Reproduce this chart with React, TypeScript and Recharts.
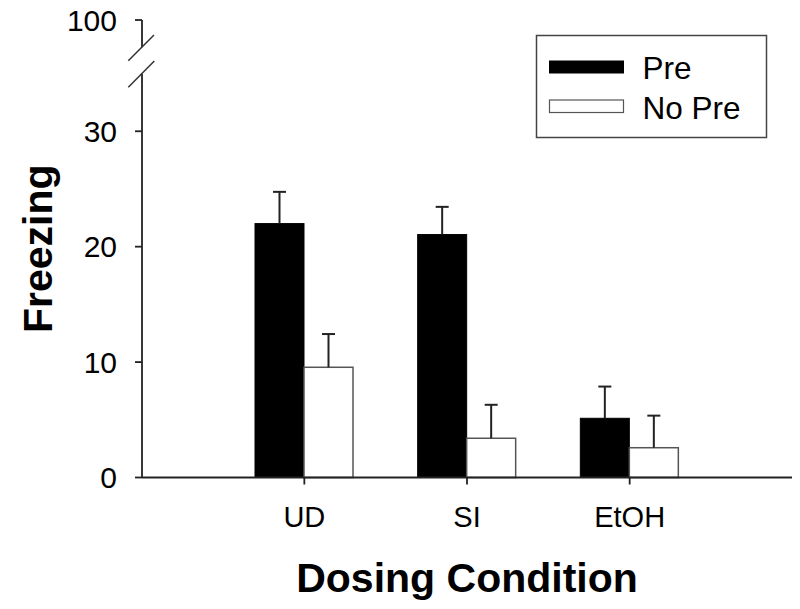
import React from 'react';
import { BarChart, Bar, XAxis, YAxis } from 'recharts';

const categories = ['UD', 'SI', 'EtOH'];
const preValues = [22.0, 21.05, 5.13];
const preErrors = [2.75, 2.4, 2.75];
const noPreValues = [9.55, 3.4, 2.58];
const noPreErrors = [2.88, 2.9, 2.78];
const yTicks = [0, 10, 20, 30];
const brokenTopLabel = '100';
const seriesNames = ['Pre', 'No Pre'];
const AXIS_TOP = 39.64; // position of the broken-axis "100" tick on the linear scale

const data = categories.map((c, i) => ({
  cat: c,
  pre: preValues[i],
  preErr: preErrors[i],
  noPre: noPreValues[i],
  noPreErr: noPreErrors[i],
}));

const FONT = '"Liberation Sans", Arial, sans-serif';
const AX = '#222';

const makeShape = (valueKey: string, errKey: string, fill: string, stroke: string, sw: number) => (props: any) => {
  const { x, y, width, height, payload } = props;
  const v = payload[valueKey];
  const e = payload[errKey];
  const pxPer = v ? height / v : 0;
  const top = y - e * pxPer;
  const cx = x + width / 2;
  return (
    <g>
      <rect x={x} y={y} width={width} height={height} fill={fill} stroke={stroke} strokeWidth={sw} />
      <line x1={cx} y1={y} x2={cx} y2={top} stroke={AX} strokeWidth={2} />
      <line x1={cx - 6.5} y1={top} x2={cx + 6.5} y2={top} stroke={AX} strokeWidth={2} />
    </g>
  );
};

const XTitle = (props: any) => {
  const vb = props.viewBox || { x: 134, y: 469.5, width: 650, height: 60 };
  return (
    <text x={vb.x + vb.width / 2} y={vb.y + 114.2} textAnchor="middle" fontFamily={FONT} fontWeight="bold" fontSize={41} fill="#000">
      Dosing Condition
    </text>
  );
};

const YTitle = (props: any) => {
  const vb = props.viewBox || { x: 0, y: 12, width: 134, height: 457.5 };
  const cx = 44;
  const cy = vb.y + vb.height / 2;
  return (
    <text x={cx} y={cy} transform={`rotate(-90, ${cx}, ${cy})`} textAnchor="middle" fontFamily={FONT} fontWeight="bold" fontSize={41} fill="#000">
      Freezing
    </text>
  );
};

export default function App() {
  return (
    <div style={{ position: 'relative', width: 784, height: 593 }}>
      <BarChart
        width={784}
        height={593}
        data={data}
        margin={{ top: 12, right: 0, bottom: 63.5, left: 0 }}
        barGap={0}
        barSize={49}
        style={{ overflow: 'visible' }}
      >
        <XAxis
          dataKey="cat"
          padding={{ left: 81, right: 81 }}
          height={60}
          tickSize={7}
          tickMargin={22}
          axisLine={{ stroke: AX, strokeWidth: 1.8 }}
          tickLine={{ stroke: AX, strokeWidth: 1.8 }}
          tick={{ fill: '#000', fontSize: 29, fontFamily: FONT }}
          label={{ content: XTitle } as any}
        />
        <YAxis
          type="number"
          domain={[0, AXIS_TOP]}
          ticks={[...yTicks, AXIS_TOP]}
          tickFormatter={(v: number) => (v === AXIS_TOP ? brokenTopLabel : String(v))}
          width={134}
          tickSize={7}
          tickMargin={18}
          interval={0}
          axisLine={{ stroke: AX, strokeWidth: 1.8 }}
          tickLine={{ stroke: AX, strokeWidth: 1.8 }}
          tick={{ fill: '#000', fontSize: 30, fontFamily: FONT }}
          label={{ content: YTitle } as any}
        />
        <Bar
          dataKey="pre"
          name={seriesNames[0]}
          fill="#000"
          isAnimationActive={false}
          shape={makeShape('pre', 'preErr', '#000', '#000', 1)}
        />
        <Bar
          dataKey="noPre"
          name={seriesNames[1]}
          fill="#fff"
          isAnimationActive={false}
          shape={makeShape('noPre', 'noPreErr', '#fff', '#555', 1.5)}
        />
      </BarChart>
      <svg
        width={784}
        height={593}
        style={{ position: 'absolute', left: 0, top: 0, pointerEvents: 'none' }}
      >
        <rect x={129} y={39.3} width={9} height={26.3} fill="#fff" />
        <line x1={120.3} y1={52.7} x2={146} y2={27} stroke="#333" strokeWidth={1.5} />
        <line x1={120.3} y1={79.3} x2={146.3} y2={53} stroke="#333" strokeWidth={1.5} />
        <g transform="translate(528.5, 27.5)">
          <rect x={0} y={0} width={230} height={102} fill="#fff" stroke="#444" strokeWidth={1.5} />
          <rect x={12.5} y={25} width={75} height={13} fill="#000" />
          <rect x={13} y={64.5} width={74} height={12.5} fill="#fff" stroke="#555" strokeWidth={1.2} />
          <text x={106} y={43} fontFamily={FONT} fontSize={31.5} fill="#000">{seriesNames[0]}</text>
          <text x={106} y={83} fontFamily={FONT} fontSize={31.5} fill="#000">{seriesNames[1]}</text>
        </g>
      </svg>
    </div>
  );
}
